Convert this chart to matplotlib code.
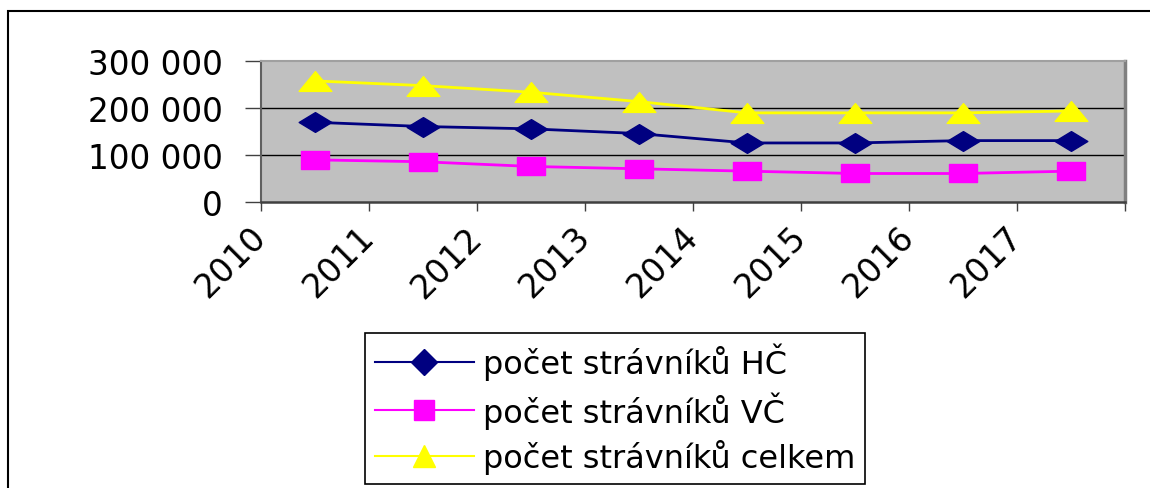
import matplotlib
matplotlib.use("Agg")
import matplotlib.pyplot as plt
from matplotlib.path import Path
from matplotlib.lines import Line2D
from matplotlib.patches import Rectangle

# data
years = ['2010', '2011', '2012', '2013', '2014', '2015', '2016', '2017']
hc = [169000, 160000, 155000, 145000, 125000, 125000, 130000, 130000]
vc = [89000, 85000, 75000, 70000, 65000, 60000, 60000, 65000]
celkem = [257000, 247000, 233000, 213000, 189000, 189000, 189000, 193000]
labels = ['počet strávníků HČ', 'počet strávníků VČ', 'počet strávníků celkem']
yticks = [0, 100000, 200000, 300000]
ytick_labels = ['0', '100 000', '200 000', '300 000']

plt.rcParams['font.family'] = ['DejaVu Sans']

# stretched markers (the original picture is squeezed horizontally)
sx = 1.65
diamond = Path([(-sx, 0), (0, 1), (sx, 0), (0, -1), (-sx, 0)], closed=True)
square = Path([(-sx, -1), (sx, -1), (sx, 1), (-sx, 1), (-sx, -1)], closed=True)
triangle = Path([(-sx, -1), (sx, -1), (0, 1), (-sx, -1)], closed=True)

fig = plt.figure(figsize=(11.5, 4.89), dpi=100)
ax = fig.add_axes([0.227, 0.5855, 0.751, 0.2883])
ax.set_facecolor('#c0c0c0')

x = [i + 0.5 for i in range(len(years))]
ax.plot(x, hc, color='#000080', lw=2, marker=diamond, ms=23.5, mec='#000080', mfc='#000080', zorder=3)
ax.plot(x, vc, color='#ff00ff', lw=2, marker=square, ms=20.5, mec='#ff00ff', mfc='#ff00ff', zorder=3)
ax.plot(x, celkem, color='#ffff00', lw=2, marker=triangle, ms=23.5, mec='#ffff00', mfc='#ffff00', zorder=3)

ax.set_xlim(0, len(years))
ax.set_ylim(0, 300000)
ax.set_yticks(yticks)
ax.set_yticklabels(ytick_labels)
ax.set_xticks(range(len(years) + 1))
ax.set_xticklabels(years + [''], rotation=45, ha='right', va='center', rotation_mode='anchor')

for y in yticks[1:3]:
    ax.axhline(y, color='black', lw=1, zorder=1)

ax.tick_params(axis='y', direction='out', length=11.5, width=1, color='#404040', pad=16, labelsize=23.5)
ax.tick_params(axis='x', direction='out', length=6.5, width=1, color='#404040', pad=15, labelsize=24)

ax.spines['left'].set_color('#606060')
ax.spines['left'].set_linewidth(1.5)
ax.spines['bottom'].set_color('#404040')
ax.spines['bottom'].set_linewidth(1.8)
ax.spines['top'].set_color('#a0a0a0')
ax.spines['top'].set_linewidth(1.5)
ax.spines['right'].set_color('#808080')
ax.spines['right'].set_linewidth(2.5)

handles = [
    Line2D([], [], color='#000080', lw=1.5, marker='D', ms=13, mec='#000080', mfc='#000080'),
    Line2D([], [], color='#ff00ff', lw=1.5, marker='s', ms=14, mec='#ff00ff', mfc='#ff00ff'),
    Line2D([], [], color='#ffff00', lw=1.5, marker='^', ms=16, mec='#ffff00', mfc='#ffff00'),
]
leg = fig.legend(handles, labels, loc='lower left', bbox_to_anchor=(365 / 1150, 4 / 489),
                 fontsize=23, handlelength=3.1, handletextpad=0.3, labelspacing=0.34,
                 borderpad=0.3, borderaxespad=0, fancybox=False, shadow=False, framealpha=1)
leg.get_frame().set_edgecolor('black')
leg.get_frame().set_linewidth(1.2)

# outer chart border (only top and left are visible in the picture)
fig.add_artist(Rectangle((7.5 / 1150, -0.1), 1.2, 1 - 11.5 / 489 + 0.1, transform=fig.transFigure,
                         fill=False, edgecolor='black', lw=1.5))

fig.savefig('out.png', dpi=100)
